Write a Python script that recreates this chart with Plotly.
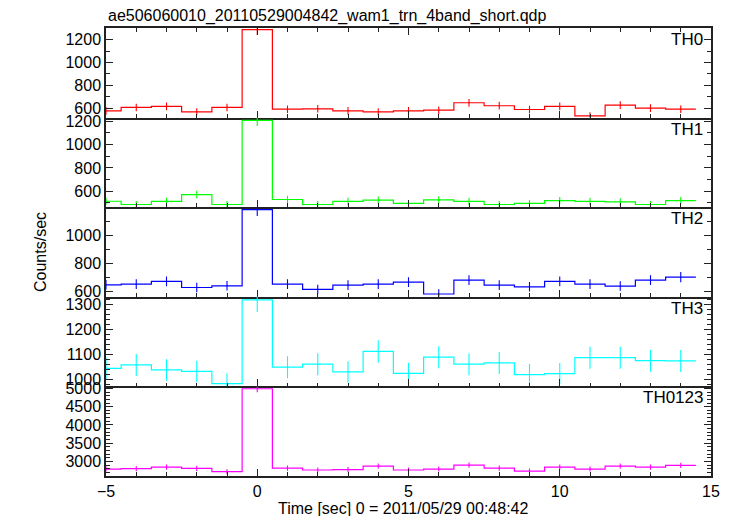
import plotly.graph_objects as go

title_text = "ae506060010_20110529004842_wam1_trn_4band_short.qdp"
x_title = "Time [sec] 0 = 2011/05/29 00:48:42"
y_title = "Counts/sec"

time_centers = [-5, -4, -3, -2, -1, 0, 1, 2, 3, 4, 5, 6, 7, 8, 9, 10, 11, 12, 13, 14]
x_major_ticks = [-5, 0, 5, 10, 15]
x_minor_ticks = [-5, -4, -3, -2, -1, 0, 1, 2, 3, 4, 5, 6, 7, 8, 9, 10, 11, 12, 13, 14, 15]

band_names = ["TH0", "TH1", "TH2", "TH3", "TH0123"]
band_colors = ["#ff0000", "#00ff00", "#0000ff", "#00ffff", "#ff00ff"]

th0 = [576, 606, 615, 568, 606, 1288, 591, 594, 576, 568, 576, 582, 647, 621, 588, 615, 532, 626, 600, 591]
th0_err = [33, 33, 34, 32, 33, 48, 33, 33, 33, 32, 33, 33, 34, 34, 33, 34, 31, 34, 33, 33]

th1 = [515, 487, 513, 572, 487, 1206, 530, 487, 513, 524, 496, 527, 513, 487, 496, 521, 513, 510, 487, 521]
th1_err = [31, 30, 31, 32, 30, 47, 31, 30, 31, 31, 30, 31, 31, 30, 30, 31, 31, 31, 30, 31]

th2 = [649, 654, 673, 630, 642, 1182, 654, 616, 647, 654, 668, 584, 682, 647, 635, 673, 654, 640, 682, 703]
th2_err = [34, 35, 35, 34, 34, 46, 35, 34, 34, 35, 35, 33, 35, 34, 34, 35, 35, 34, 35, 36]

th3 = [1045, 1059, 1039, 1033, 984, 1320, 1050, 1062, 1031, 1113, 1025, 1090, 1062, 1067, 1020, 1024, 1088, 1088, 1076, 1075]
th3_err = [44, 44, 43, 43, 42, 49, 44, 44, 43, 45, 43, 44, 44, 44, 43, 43, 44, 44, 44, 44]

th0123 = [2791, 2800, 2845, 2809, 2718, 4991, 2818, 2764, 2773, 2873, 2764, 2791, 2900, 2818, 2736, 2845, 2791, 2873, 2845, 2891]
th0123_err = [71, 71, 72, 72, 70, 95, 72, 71, 71, 72, 71, 71, 73, 72, 71, 72, 71, 72, 72, 73]

band_values = [th0, th1, th2, th3, th0123]
band_errors = [th0_err, th1_err, th2_err, th3_err, th0123_err]

y_ranges = [[517, 1302], [464, 1230], [564, 1199], [973, 1332], [2600, 5055]]
y_dticks = [200, 200, 200, 100, 500]
y_minor = [100, 100, 100, 20, 100]

FONT = "Liberation Sans, Arial, Helvetica, sans-serif"
AX = "#222222"

fig = go.Figure()
n = 5
layout_axes = {}
for i in range(n):
    k = "" if i == 0 else str(i + 1)
    last = (i == n - 1)
    ov = k if last else str(n + 1 + i)  # overlay x axis carrying the long major ticks
    x_mirror = "ticks" if i == 0 else False
    vals = band_values[i]
    errs = band_errors[i]
    col = band_colors[i]
    edges = [c - 0.5 for c in time_centers] + [time_centers[-1] + 0.5]
    step_y = vals + [vals[-1]]
    fig.add_trace(go.Scatter(x=edges, y=step_y, mode="lines", line=dict(color=col, width=1.2, shape="hv"),
                             xaxis="x" + k, yaxis="y" + k, showlegend=False, hoverinfo="skip"))
    fig.add_trace(go.Scatter(x=time_centers, y=vals, mode="markers",
                             marker=dict(size=1, color=col),
                             error_y=dict(type="data", array=errs, width=0, thickness=1.1, color=col),
                             xaxis="x" + ov, yaxis="y" + k, showlegend=False))
    top = 1 - i / n
    bot = 1 - (i + 1) / n
    layout_axes["yaxis" + k] = dict(
        domain=[bot, top], anchor="x" + k, range=y_ranges[i], dtick=y_dticks[i], tick0=0,
        ticks="inside", ticklen=7, tickwidth=1, tickcolor=AX,
        minor=dict(dtick=y_minor[i], ticks="inside", ticklen=4, tickwidth=1, tickcolor=AX, showgrid=False),
        mirror="ticks", showline=True, linecolor=AX, linewidth=1.5,
        showgrid=False, zeroline=False, automargin=False,
        tickfont=dict(family=FONT, size=16, color="black"))
    common_x = dict(range=[-5, 15], ticks="inside", tickwidth=1, tickcolor=AX,
                    showgrid=False, zeroline=False, automargin=False,
                    tickfont=dict(family=FONT, size=16, color="black"))
    if last:
        layout_axes["xaxis" + k] = dict(
            domain=[0, 1], anchor="y" + k, tickmode="array", tickvals=x_major_ticks, ticklen=7,
            minor=dict(tickmode="array", tickvals=x_minor_ticks, ticks="inside", ticklen=4, tickwidth=1,
                       tickcolor=AX, showgrid=False),
            mirror=x_mirror, showline=True, linecolor=AX, linewidth=1.5,
            showticklabels=True, **common_x)
    else:
        layout_axes["xaxis" + k] = dict(
            domain=[0, 1], anchor="y" + k, tickmode="array", tickvals=x_minor_ticks, ticklen=4,
            mirror=x_mirror, showline=True, linecolor=AX, linewidth=1.5,
            showticklabels=False, **common_x)
        layout_axes["xaxis" + ov] = dict(
            overlaying="x" + k, anchor="y" + k, side="bottom", tickmode="array", tickvals=x_major_ticks,
            ticklen=7, mirror=x_mirror, showline=False, showticklabels=False, **common_x)
    fig.add_annotation(text=band_names[i], xref="x" + k + " domain", yref="y" + k + " domain", x=1, y=1,
                       xanchor="right", yanchor="top", xshift=-6, yshift=0,
                       showarrow=False, font=dict(family=FONT, size=17, color="black"))

fig.add_annotation(text=title_text, xref="paper", yref="paper", x=0, y=1,
                   xanchor="left", yanchor="bottom", yshift=1, showarrow=False,
                   font=dict(family=FONT, size=16, color="black"))
fig.add_annotation(text=y_title, xref="paper", yref="paper", x=0, y=0.5,
                   xanchor="center", yanchor="middle", xshift=-66, textangle=-90, showarrow=False,
                   font=dict(family=FONT, size=16, color="black"))
fig.add_annotation(text=x_title, xref="paper", yref="paper", x=0.5, y=0,
                   xanchor="center", yanchor="top", xshift=-6, yshift=-22, showarrow=False,
                   font=dict(family=FONT, size=16, color="black"))

fig.update_layout(width=733, height=516, margin=dict(l=106, r=22, t=28, b=40, autoexpand=False),
                  paper_bgcolor="white", plot_bgcolor="white", showlegend=False, **layout_axes)

fig.write_html("out.html", config={"displayModeBar": False},
               post_script="document.body.style.margin='0';document.body.style.overflow='hidden';")
